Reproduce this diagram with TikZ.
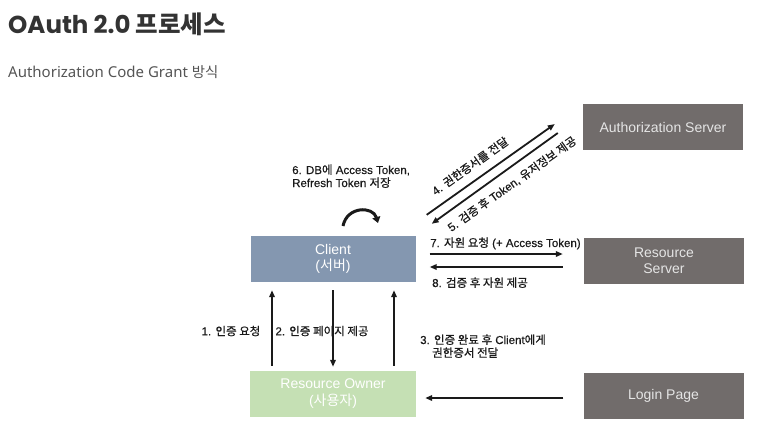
\documentclass[tikz,border=0pt]{standalone}
\usepackage{fontspec}
\setmainfont{Liberation Sans}
\newfontfamily\kof{Noto Sans CJK KR}
\newfontfamily\labf[FakeBold=0.5]{Liberation Sans}
\newfontfamily\kofl[FakeBold=0.6]{Noto Sans CJK KR}
\newfontfamily\notos{Noto Sans}
\newfontfamily\popp{Poppins}
\usetikzlibrary{arrows.meta}
\newcommand\K[1]{{\kof #1}}
\newcommand\KL[1]{{\kofl #1}}
\definecolor{graybox}{HTML}{716C6B}
\definecolor{clientbox}{HTML}{8497B0}
\definecolor{ownerbox}{HTML}{C5E0B4}
\definecolor{titlec}{HTML}{333333}
\definecolor{subc}{HTML}{555555}
\definecolor{labc}{HTML}{1A1A1A}
\tikzset{
  box/.style={rectangle, inner sep=0pt, align=center, font=\fontsize{14}{16}\selectfont},
  srvbox/.style={box, fill=graybox, text=white!90!black, minimum width=160pt, minimum height=46pt},
  clbox/.style={box, fill=clientbox, text=white, minimum width=165pt, minimum height=46pt},
  owbox/.style={box, fill=ownerbox, text=white, minimum width=166pt, minimum height=46pt, font=\fontsize{14}{17}\selectfont},
  arr/.style={line width=1.8pt, labc, -{Triangle[length=7pt,width=5.5pt]}},
  lab/.style={inner sep=0pt, text=labc, font=\fontsize{11.5}{13}\selectfont\labf},
}
\begin{document}
\begin{tikzpicture}[x=1pt,y=-1pt]
\useasboundingbox (0,0) rectangle (767,437);
\fill[white] (0,0) rectangle (767,437);
% title and subtitle
\node[anchor=base west, inner sep=0pt, text=titlec] (title) at (8,33)
  {\fontsize{24.5}{28}\selectfont\popp\bfseries OAuth 2.0 {\kof\bfseries 프로세스}};
\node[anchor=base west, inner sep=0pt, text=subc] (sub) at (8,77)
  {\fontsize{15}{17}\selectfont\notos Authorization Code Grant {\kof\fontsize{14.4}{17}\selectfont 방식}};
% boxes
\node[srvbox] (as) at (663,127) {Authorization Server};
\node[srvbox] (rs) at (664,260.5) {Resource\\Server};
\node[srvbox] (lp) at (663.5,396) {Login Page};
\node[clbox] (cl) at (333,259) {Client\\(\K{서버})};
\node[owbox] (ro) at (333,394) {Resource Owner\\(\K{사용자})};
% vertical arrows
\draw[arr] ([xshift=-61pt,yshift=5pt]ro.north) -- ([xshift=-61pt,yshift=-8pt]cl.south);
\draw[arr] ([yshift=-8pt]cl.south) -- ([yshift=4pt]ro.north);
\draw[arr] ([xshift=61pt,yshift=5pt]ro.north) -- ([xshift=61pt,yshift=-8pt]cl.south);
% resource server arrows
\draw[arr] ([xshift=14pt,yshift=5pt]cl.east) -- ([xshift=-21pt,yshift=6.5pt]rs.west);
\draw[arr] ([xshift=-21pt,yshift=-6.5pt]rs.west) -- ([xshift=14pt,yshift=-8pt]cl.east);
% login page arrow
\draw[arr] ([xshift=-20pt,yshift=-2pt]lp.west) -- ([xshift=9pt,yshift=-4pt]ro.east);
% authorization server arrows
\draw[arr] ([xshift=11pt,yshift=21pt]cl.north east) -- ([xshift=-28pt,yshift=3pt]as.west);
\draw[arr] ([xshift=-25pt,yshift=-6pt]as.west) -- ([xshift=16pt,yshift=12pt]cl.north east);
% self loop
\coordinate (c6s) at (343,226);
\coordinate (c6e) at (378,223);
\draw[line width=3pt, labc, -{Triangle[length=6pt,width=8pt]}] (c6s) .. controls (347,206) and (373,206) .. (c6e);
% labels
\node[lab, anchor=base west, align=left] (l6) at (292,187)
  {6. DB\KL{에} Access Token,\\Refresh Token \KL{저장}};
\node[lab, rotate=35.4] (l4) at (470,166) {4. \KL{권한증서를 전달}};
\node[lab, rotate=35.4] (l5) at (512,184) {5. \KL{검증 후} Token, \KL{유저정보 제공}};
\node[lab, anchor=base west] (l7) at (430,247) {7. \KL{자원 요청} (+ Access Token)};
\node[lab, anchor=base west] (l8) at (432,287) {8. \KL{검증 후 자원 제공}};
\node[lab] (l1) at (231,331) {1. \KL{인증 요청}};
\node[lab] (l2) at (322,331) {2. \KL{인증 페이지 제공}};
\node[lab, anchor=base west, align=left] (l3) at (420,357)
  {3. \KL{인증 완료 후} Client\KL{에게}\\\hspace*{12pt}\KL{권한증서 전달}};
\end{tikzpicture}
\end{document}
